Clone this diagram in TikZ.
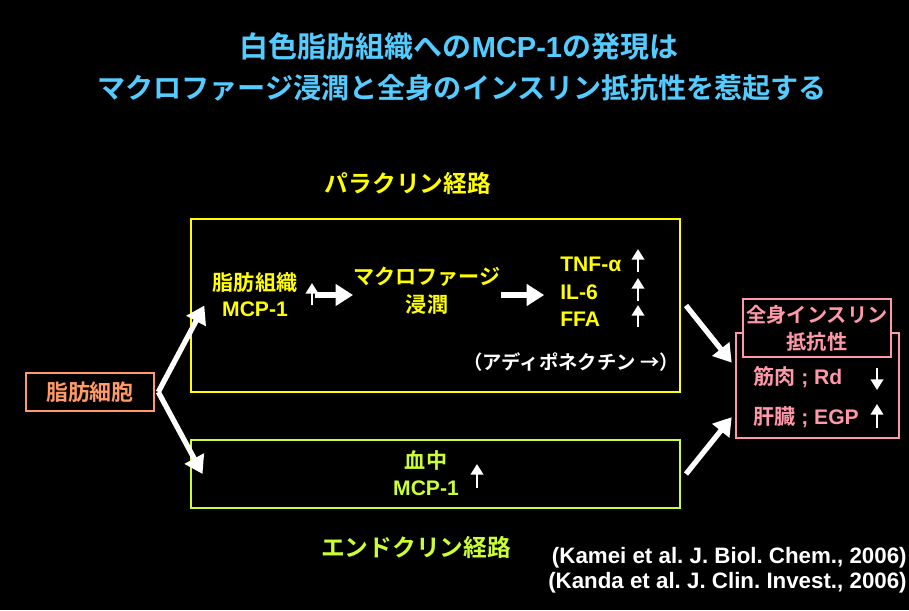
\documentclass[tikz,border=0pt]{standalone}
\usepackage{fontspec}
\setmainfont{Liberation Sans}
\newfontfamily\jp{Noto Sans CJK JP}[UprightFont=Noto Sans CJK JP Bold, BoldFont=Noto Sans CJK JP Bold]
\usetikzlibrary{arrows.meta}
\definecolor{titlecyan}{RGB}{85,204,255}
\definecolor{paraylw}{RGB}{255,255,0}
\definecolor{endogrn}{RGB}{204,255,51}
\definecolor{fatsalmon}{RGB}{255,153,102}
\definecolor{respink}{RGB}{255,153,170}
\tikzset{
  fatarrow/.style={white, line width=3pt, -{Triangle[length=10pt,width=12pt]}},
  thinup/.style={white, line width=1.4pt, -{Triangle[length=6pt,width=7pt]}},
  lbl/.style={inner sep=0pt, align=center, font=\bfseries\fontsize{12}{14.7}\selectfont},
  pathbox/.style={draw=#1, line width=0.9pt, inner sep=0pt},
}
\frenchspacing
\begin{document}
\begin{tikzpicture}[x=0.02cm,y=-0.02cm]
			%%%%% BACKGROUND %%%%%
			\fill[black] (0,0) rectangle (909,610);
			\useasboundingbox (0,0) rectangle (909,610);
			
			%%%%% TITLE %%%%%
			\node[lbl, titlecyan, font=\bfseries\fontsize{16.5}{18}\selectfont] (title1) at (459,47) {{\jp 白色脂肪組織への}MCP-1{\jp の発現は}};
			\node[lbl, titlecyan, font=\jp\fontsize{16}{18}\selectfont] (title2) at (462,88) {マクロファージ浸潤と全身のインスリン抵抗性を惹起する};
			
			%%%%% PARACRINE %%%%%
			\node[lbl, paraylw, font=\jp\fontsize{13.5}{16}\selectfont] (paralbl) at (408,183) {パラクリン経路};
			\node[pathbox=paraylw, minimum width=9.78cm, minimum height=3.46cm] (para) at (435.5,305.5) {};
			
			\node[lbl, paraylw] (adipo) at (255,295) {{\jp 脂肪組織}\\MCP-1};
			\node[lbl, paraylw, font=\jp\fontsize{12}{16}\selectfont] (macro) at (427,291) {マクロファージ\\浸潤};
			\node[lbl, paraylw, align=left, anchor=west, font=\bfseries\fontsize{12}{15.6}\selectfont] (cyto) at (560,292) {TNF-α\\IL-6\\FFA};
			\node[lbl, white, font=\jp\fontsize{11}{13}\selectfont] (adipon) at (571,362) {（アディポネクチン →）};
			
			\draw[thinup] (312,305) -- (312,283);
			\draw[fatarrow] ([xshift=10pt]adipo.east) -- (macro.west |- adipo.east);
			\draw[fatarrow] (macro.east |- adipo.east) -- ([xshift=-9pt]cyto.west |- adipo.east);
			\draw[thinup] (638,272) -- (638,249);
			\draw[thinup] (638,301) -- (638,278);
			\draw[thinup] (638,327) -- (638,305);
			
			%%%%% ENDOCRINE %%%%%
			\node[pathbox=endogrn, minimum width=9.78cm, minimum height=1.36cm] (blood) at (435.5,474) {};
			\node[lbl, endogrn, font=\bfseries\fontsize{12}{15.3}\selectfont] (bloodmcp) at (426,473) {{\jp 血中}\\MCP-1};
			\draw[thinup] (477,488) -- (477,464);
			\node[lbl, endogrn, font=\jp\fontsize{13.5}{16}\selectfont] (endolbl) at (416,547) {エンドクリン経路};
			
			%%%%% ADIPOCYTE %%%%%
			\node[pathbox=fatsalmon, minimum width=2.56cm, minimum height=0.76cm, text=fatsalmon, font=\jp\fontsize{12.5}{14}\selectfont] (fat) at (90,392) {脂肪細胞};
			\coordinate (fork) at ([xshift=2pt]fat.east);
			\coordinate (paratip) at ([xshift=8pt]para.west);
			\coordinate (bloodtip) at ([xshift=7pt]blood.west);
			\draw[fatarrow] (fork) -- (paratip);
			\draw[fatarrow] (fork) -- (bloodtip);
			
			%%%%% INSULIN RESISTANCE %%%%%
			\node[pathbox=respink, minimum width=3.26cm, minimum height=2.1cm] (res) at (817.5,385.5) {};
			\node[pathbox=respink, fill=black, minimum width=2.96cm, minimum height=1.16cm, text=respink, align=center, font=\jp\fontsize{11.5}{15.3}\selectfont] (restitle) at (817,328) {全身インスリン\\抵抗性};
			\node[lbl, respink, anchor=west] (muscle) at (753,377) {{\jp 筋肉} ; Rd};
			\node[lbl, respink, anchor=west] (liver) at (753,417) {{\jp 肝臓} ; EGP};
			\draw[thinup, -{Triangle[length=6pt,width=7pt]}] (877,368) -- (877,390);
			\draw[thinup] (877,428) -- (877,404);
			
			\draw[fatarrow] ([xshift=3pt]para.east) -- ([xshift=-2pt,yshift=13pt]res.west);
			\draw[fatarrow] ([xshift=3pt]blood.east) -- ([xshift=-2pt,yshift=-18pt]res.west);
			
			%%%%% REFERENCES %%%%%
			\node[lbl, white, anchor=east, align=right, font=\bfseries\fontsize{12.7}{14.4}\selectfont] (cite) at (907,570) {(Kamei et al. J. Biol. Chem., 2006)\\(Kanda et al. J. Clin. Invest., 2006)};
\end{tikzpicture}
\end{document}
